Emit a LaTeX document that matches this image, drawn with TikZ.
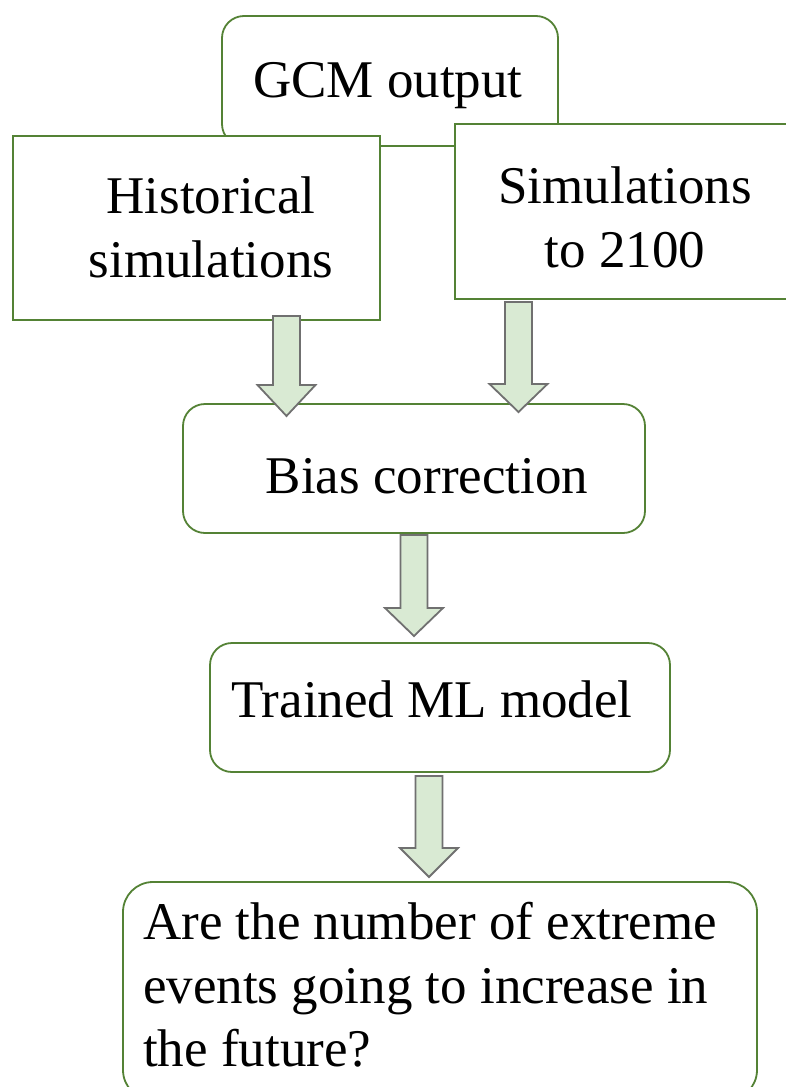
\documentclass[tikz,border=0pt]{standalone}
\usepackage{fontspec}
\setmainfont{Liberation Serif}
\usetikzlibrary{calc}

\definecolor{boxgreen}{RGB}{84,130,53}
\definecolor{arrowfill}{RGB}{217,234,211}
\definecolor{arrowline}{RGB}{112,112,112}

% block arrow pointing down: centre x, top y, neck y, tip y
\newcommand\blockarrow[4]{%
  \draw[blockarrowstyle]
    (#1-13.5,#2) -- (#1+13.5,#2) -- (#1+13.5,#3) -- (#1+29,#3) --
    (#1,#4) -- (#1-29,#3) -- (#1-13.5,#3) -- cycle;}

\tikzset{
  flowbox/.style={draw=boxgreen, line width=1.8pt, fill=white,
    rectangle, inner sep=0pt, outer sep=0pt},
  roundbox/.style={flowbox, rounded corners=22pt},
  boxtext/.style={font=\fontsize{53}{64}\selectfont, inner sep=0pt, anchor=base},
  blockarrowstyle/.style={draw=arrowline, fill=arrowfill, line width=1.8pt,
    line join=miter},
}

\begin{document}
\begin{tikzpicture}[x=1pt,y=-1pt]
\useasboundingbox (0,0) rectangle (786,1087);
\fill[white] (0,0) rectangle (786,1087);

% source box and the two simulation sets drawn over it
\node[roundbox, minimum width=336pt, minimum height=130pt] (gcm) at (390,81) {};
\node[flowbox, minimum width=367pt, minimum height=184pt] (hist) at (196.5,228) {};
\node[flowbox, minimum width=345pt, minimum height=175pt] (sim) at (627.5,211.5) {};

% processing steps
\node[roundbox, minimum width=462pt, minimum height=129pt] (bias) at (414,468.5) {};
\node[roundbox, minimum width=460pt, minimum height=129pt] (ml) at (440,707.5) {};
\node[roundbox, rounded corners=30pt, minimum width=634pt, minimum height=218pt] (question) at (440,991) {};

% labels
\node[boxtext] (gcmtext) at (388,97) {GCM output};
\node[boxtext] (histtext1) at (211,213) {Historical};
\node[boxtext] (histtext2) at (211,277) {simulations};
\node[boxtext] (simtext1) at (625,203) {Simulations};
\node[boxtext] (simtext2) at (625,267) {to 2100};
\node[boxtext] (biastext) at (427,493) {Bias correction};
\node[boxtext] (mltext) at (432,717) {Trained ML model};
\node[boxtext, anchor=base west] (q1) at (143,939) {Are the number of extreme};
\node[boxtext, anchor=base west] (q2) at (143,1003) {events going to increase in};
\node[boxtext, anchor=base west] (q3) at (143,1066) {the future?};

% flow arrows
\blockarrow{286.5}{316}{385}{416}
\blockarrow{518.5}{302}{384}{412}
\blockarrow{414}{535}{608}{636}
\blockarrow{429}{776}{848}{877}
\end{tikzpicture}
\end{document}
